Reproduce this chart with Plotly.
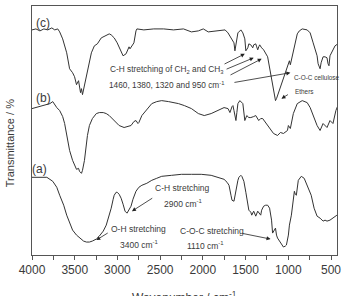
import plotly.graph_objects as go

# ---- data (wavenumber in cm^-1, transmittance in arbitrary units) ----
wn_c = [4000, 3954, 3907, 3861, 3815, 3768, 3734, 3699, 3676, 3641, 3594, 3560, 3525, 3502,
        3479, 3455, 3432, 3421, 3409, 3386, 3351, 3305, 3270, 3235, 3189, 3131, 3096, 3073,
        3038, 3003, 2957, 2934, 2899, 2876, 2864, 2853, 2830, 2807, 2783, 2772, 2691, 2575,
        2459, 2343, 2227, 2134, 2053, 1995, 1937, 1822, 1740, 1706, 1671, 1636, 1625, 1613,
        1590, 1555, 1532, 1509, 1497, 1474, 1462, 1439, 1416, 1405, 1381, 1370, 1358, 1346,
        1335, 1312, 1289, 1242, 1208, 1173, 1150, 1138, 1115, 1092, 1068, 1034, 1010, 987,
        976, 953, 929, 895, 871, 837, 779, 744, 709, 686, 663, 651, 628, 616, 593, 570, 547,
        535, 524, 512, 477, 453, 420]
tr_c = [226, 227, 225, 227, 226, 228, 226, 227, 224, 217, 203, 187, 183, 179,
        171, 175, 163, 167, 161, 170, 185, 203, 210, 212, 218, 221, 222, 221,
        218, 213, 203, 200, 202, 207, 209, 207, 210, 213, 225, 227, 226, 227,
        227, 226, 227, 224, 225, 227, 224, 225, 226, 223, 218, 213, 205, 213,
        223, 226, 223, 217, 205, 208, 212, 211, 208, 211, 212, 209, 206, 209,
        211, 208, 206, 199, 183, 167, 155, 157, 163, 167, 175, 183, 189, 195,
        191, 200, 212, 222, 225, 227, 226, 223, 213, 207, 200, 192, 187, 193,
        199, 199, 198, 192, 190, 200, 207, 210, 212]

wn_b = [4000, 3954, 3907, 3861, 3815, 3791, 3757, 3734, 3710, 3676, 3641, 3618, 3583, 3560,
        3525, 3502, 3479, 3455, 3444, 3421, 3409, 3386, 3374, 3351, 3328, 3293, 3247, 3212,
        3166, 3131, 3096, 3061, 3015, 2980, 2922, 2876, 2841, 2807, 2783, 2760, 2749, 2714,
        2667, 2598, 2540, 2482, 2401, 2285, 2216, 2134, 2053, 1984, 1903, 1822, 1752, 1706,
        1683, 1659, 1648, 1636, 1613, 1602, 1590, 1567, 1532, 1509, 1486, 1462, 1439, 1405,
        1381, 1346, 1323, 1300, 1265, 1242, 1208, 1173, 1126, 1092, 1057, 1010, 999, 976,
        941, 895, 837, 779, 744, 709, 663, 628, 593, 547, 512, 477, 443, 420]
tr_b = [147, 148, 149, 150, 151, 152, 154, 151, 148, 145, 139, 132, 115, 105,
        95, 90, 86, 87, 84, 82, 85, 95, 105, 120, 130, 137, 142, 143,
        143, 142, 140, 137, 133, 130, 128, 129, 130, 134, 135, 132, 133, 140,
        145, 152, 154, 155, 154, 152, 150, 147, 142, 140, 142, 145, 148, 147,
        143, 149, 150, 145, 135, 143, 152, 155, 152, 135, 140, 138, 138, 139,
        140, 135, 137, 137, 133, 131, 127, 122, 120, 123, 122, 125, 130, 127,
        142, 152, 155, 153, 148, 140, 130, 125, 132, 128, 135, 132, 145, 150]

wn_a = [4000, 3907, 3826, 3757, 3710, 3676, 3629, 3594, 3560, 3525, 3479, 3444, 3397, 3363,
        3328, 3293, 3247, 3212, 3166, 3131, 3096, 3073, 3050, 3038, 3015, 3003, 2980, 2957,
        2934, 2911, 2888, 2864, 2841, 2818, 2783, 2749, 2714, 2656, 2598, 2540, 2482, 2366,
        2251, 2134, 2019, 1903, 1822, 1752, 1717, 1694, 1671, 1659, 1636, 1625, 1613, 1590,
        1578, 1555, 1544, 1532, 1520, 1497, 1486, 1462, 1439, 1428, 1405, 1381, 1358, 1335,
        1323, 1312, 1289, 1265, 1242, 1219, 1196, 1184, 1173, 1150, 1138, 1126, 1103, 1068,
        1057, 1034, 1022, 999, 987, 964, 941, 929, 918, 906, 883, 848, 814, 779, 756, 732,
        698, 663, 628, 593, 570, 547, 512, 477, 453, 431]
tr_a = [78, 78, 78, 74, 68, 60, 50, 40, 32, 25, 20, 17, 14, 13,
        13, 14, 16, 19, 24, 30, 39, 47, 56, 60, 63, 63, 61, 57,
        51, 44, 42, 45, 49, 56, 64, 68, 70, 72, 75, 77, 79, 80,
        81, 81, 81, 80, 78, 76, 73, 70, 60, 55, 54, 60, 67, 75,
        78, 80, 79, 77, 74, 63, 57, 45, 43, 40, 44, 39, 44, 41,
        40, 45, 49, 50, 50, 47, 35, 22, 24, 27, 20, 17, 14, 10,
        8, 9, 10, 20, 30, 40, 60, 64, 61, 60, 75, 79, 77, 70,
        65, 60, 47, 39, 37, 34, 35, 34, 35, 37, 39, 40]

x_range = [4000, 430]
tick_vals = [4000, 3500, 3000, 2500, 2000, 1500, 1000, 500]

line_col = "#333333"
txt_col = "#3a3a3a"
fam = "Arial, Liberation Sans, sans-serif"

fig = go.Figure()
for wn, tr in [(wn_c, tr_c), (wn_b, tr_b), (wn_a, tr_a)]:
    fig.add_trace(go.Scatter(x=wn, y=tr, mode="lines",
                             line=dict(color=line_col, width=1), showlegend=False,
                             hoverinfo="skip"))

ann = []
def text(x, y, s, size, xanchor="center"):
    ann.append(dict(x=x, y=y, xref="x", yref="y", text=s, showarrow=False,
                    xanchor=xanchor, yanchor="middle",
                    font=dict(size=size, color=txt_col, family=fam)))

def arrow(x0, y0, x1, y1):
    ann.append(dict(x=x1, y=y1, ax=x0, ay=y0, xref="x", yref="y", axref="x", ayref="y",
                    text="", showarrow=True, arrowhead=2, arrowsize=1.0, arrowwidth=0.8,
                    arrowcolor="#222222", standoff=0, startstandoff=0,
                    font=dict(size=8)))

text(3873, 233, "(c)", 12)
text(3861, 158, "(b)", 12)
text(3907, 86, "(a)", 12)

text(2424, 186, "C-H stretching of CH<sub>2</sub> and CH<sub>3</sub>", 8.3)
text(2424, 171, "1460, 1380, 1320 and 950 cm<sup>-1</sup>", 8.3)
arrow(1764, 191, 1509, 202)
arrow(1740, 186, 1405, 198)
arrow(1694, 180, 1312, 197)
arrow(1648, 173, 976, 183)
text(953, 178, "C-O-C cellulose", 6.4, xanchor="left")
arrow(987, 162, 1080, 157)
text(941, 164, "Ethers", 6.4, xanchor="left")

text(2239, 67, "C-H stretching", 8.5)
text(2225, 52, "2900 cm<sup>-1</sup>", 8.5)
arrow(2575, 58, 2830, 44)
text(2749, 26, "O-H stretching", 8.5)
text(2737, 11, "3400 cm<sup>-1</sup>", 8.5)
arrow(3096, 23, 3247, 15)
text(1891, 24, "C-O-C stretching", 8.5)
text(1972, 10, "1110 cm<sup>-1</sup>", 8.5)
arrow(1555, 22, 1208, 16)

ann.append(dict(x=-0.071, y=0.45, xref="paper", yref="paper", text="Transmittance / %",
                textangle=-90, showarrow=False, xanchor="center", yanchor="middle",
                font=dict(size=11, color=txt_col, family=fam)))
ann.append(dict(x=0.5, y=-0.128, xref="paper", yref="paper", text="Wavenumber / cm<sup>-1</sup>",
                showarrow=False, xanchor="center", yanchor="top",
                font=dict(size=12, color=txt_col, family=fam)))

fig.update_layout(
    width=346, height=296,
    margin=dict(l=32, r=6, t=5, b=41),
    paper_bgcolor="white", plot_bgcolor="white",
    annotations=ann,
    xaxis=dict(range=x_range, tickvals=tick_vals, ticks="outside", ticklen=4,
               tickcolor="#555555", showgrid=False, zeroline=False,
               showline=True, linecolor="#555555", linewidth=1, mirror=True,
               tickfont=dict(size=12, color=txt_col, family=fam),
               minor=dict(dtick=250, ticks="outside", ticklen=4, tickcolor="#555555",
                          showgrid=False)),
    yaxis=dict(range=[0, 250], showticklabels=False, ticks="", showgrid=False,
               zeroline=False, showline=True, linecolor="#555555", linewidth=1,
               mirror=True),
)

fig.write_html("out.html")
